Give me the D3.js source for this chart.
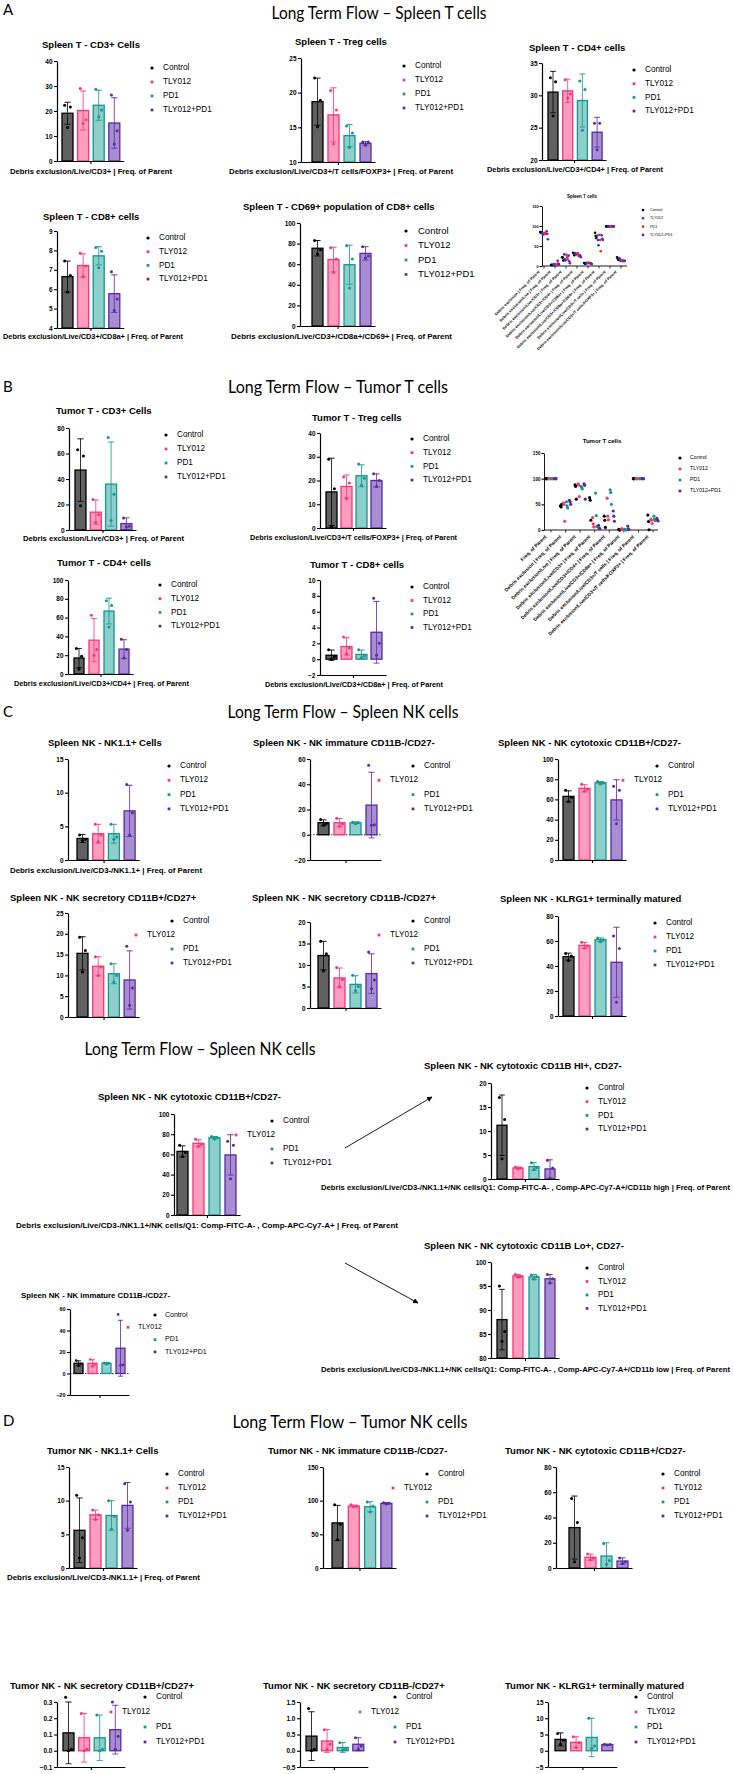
<!DOCTYPE html>
<html>
<head>
<meta charset="utf-8">
<script src="https://cdn.jsdelivr.net/npm/d3@7"></script>
<style>
body { margin: 0; background: #fff; }
text { font-family: "Liberation Sans", Arial, sans-serif; }
</style>
</head>
<body>
<script>
const W = 733, H = 1774;

const groups = ['Control', 'TLY012', 'PD1', 'TLY012+PD1'];
const fills = ['#606060', '#ff9dbf', '#8dcfca', '#a78dd2'];
const strokes = ['#000000', '#f2387a', '#17968f', '#5a2a9d'];
const scatColsSpleen = ['#000000', '#1b36ff', '#ff1f1f', '#6421b0'];

// [mean, sd, [points]] per group, in groups order
const spT_cd3 = [[19.1, 4.4, [22.3, 21.6, 13.4]], [20.2, 7.8, [29, 16.5, 15]], [22.3, 6, [28.7, 20.4, 17.7]], [15.2, 10.1, [26.4, 12.1, 6.8]]];
const spT_treg = [[18.7, 3.4, [22.1, 18.9, 15.1]], [16.8, 3.9, [20.3, 17.5, 12.6]], [13.8, 1.6, [15.2, 14.2, 12.1]], [12.7, 0.25, [12.9, 12.9, 12.4]]];
const spT_cd4 = [[30.5, 3.2, [32.7, 32.1, 26.8]], [30.7, 1.8, [32.4, 30.2, 29.6]], [29.2, 4.1, [32.2, 30.9, 24.6]], [24.3, 2.3, [25.7, 25.7, 21.6]]];
const spT_cd8 = [[6.65, 0.8, [7.45, 6.7, 5.85]], [7.22, 0.6, [7.85, 7.2, 6.65]], [7.72, 0.47, [8.15, 7.95, 7.1]], [5.77, 0.97, [6.9, 5.5, 4.9]]];
const spT_cd69 = [[75.5, 7.5, [83, 74, 70]], [64.5, 12, [76, 65, 52]], [59.5, 19, [78, 65, 37]], [70.5, 6.5, [77, 68, 66]]];

const tuT_cd3 = [[47, 24.5, [63, 58, 19]], [14, 9.5, [24, 12, 6]], [36, 33, [72.5, 28, 7.5]], [5, 4.5, [9.5, 3, 2.5]]];
const tuT_treg = [[15.2, 14.2, [29, 16.5, 0.5]], [17.5, 4.8, [21.5, 19, 12.3]], [22, 4.6, [27, 21, 18]], [20, 2.8, [22.8, 20, 17.5]]];
const tuT_cd4 = [[17, 10.2, [27, 19, 5]], [36, 23, [62.5, 26, 20]], [67, 13.7, [78, 73, 50]], [26.5, 10, [37, 26, 17]]];
const tuT_cd8 = [[0.5, 0.65, [1.2, 0.3, 0]], [1.6, 1.1, [2.8, 1.4, 0.7]], [0.6, 0.55, [1.2, 0.4, 0.2]], [3.4, 3.9, [7.7, 2, 0.5]]];

const spNK_nk11 = [[3.2, 0.6, [3.7, 3.1, 2.9]], [3.9, 1.4, [5.3, 3.7, 2.7]], [3.9, 1.4, [5.3, 3.4, 3.1]], [7.3, 3.8, [11.2, 7.0, 3.7]]];
const spNK_imm = [[9.5, 2.3, [12, 9, 7.5]], [9.5, 3.3, [13, 8.5, 7]], [9.5, 0.7, [10, 9.7, 8.7]], [23.5, 26, [55, 8, 7.5]]];
const spNK_cyto = [[63, 5.5, [69, 62, 58]], [71, 3.5, [75, 70, 68]], [76.5, 1.2, [77.7, 76.5, 75.3]], [59.5, 20, [73, 69, 36]]];
const spNK_sec1 = [[15.3, 4, [19.2, 16, 10.8]], [12.2, 2.3, [14.5, 12, 10]], [10.4, 2.4, [12.8, 10, 8.4]], [8.9, 7, [17, 7, 2.8]]];
const spNK_sec2 = [[12.2, 3.3, [15.5, 12.6, 8.6]], [7, 2.3, [9.4, 6.6, 5]], [5.5, 2, [7.6, 5, 4]], [8, 4.6, [13, 6.5, 4.5]]];
const spNK_klrg = [[47.5, 2.8, [50, 48, 44.5]], [56.5, 2.4, [59, 56, 54.5]], [61, 1.5, [62.5, 61, 59.5]], [43, 28, [64, 54, 11]]];
const spNK_hi = [[11.2, 6.3, [17, 12.4, 4.2]], [2.3, 0.2, [2.5, 2.3, 2.1]], [2.6, 0.8, [3.4, 2.4, 2.0]], [2.1, 1.9, [3.9, 2.3, 0.1]]];
const spNK_lo = [[88, 6.3, [95, 85.5, 83.5]], [97.1, 0.3, [97.4, 97, 96.9]], [96.9, 0.5, [97.3, 97, 96.4]], [96.5, 0.9, [97.4, 96.5, 95.6]]];

const tuNK_nk11 = [[5.6, 4.8, [10.8, 4.5, 1.5]], [7.9, 0.7, [8.6, 7.9, 7.2]], [7.8, 2.2, [10, 7.7, 5.8]], [9.3, 3.4, [12.5, 9.8, 5.6]]];
const tuNK_imm = [[67, 26, [94, 65, 42]], [92, 1.5, [94, 92, 91]], [91, 7.5, [98, 92, 83]], [96, 1, [97, 96, 95]]];
const tuNK_cyto = [[32, 25, [55, 36, 5]], [8.5, 2.5, [11, 8, 6.5]], [9.5, 10.5, [19.5, 6, 3]], [5.5, 2.5, [8, 5, 3.5]]];
const tuNK_sec1 = [[0.11, 0.19, [0.33, 0.01, 0]], [0.08, 0.15, [0.23, 0.01, 0]], [0.08, 0.14, [0.22, 0.01, 0]], [0.13, 0.15, [0.3, 0.09, 0.01]]];
const tuNK_sec2 = [[0.45, 0.75, [1.3, 0.05, 0]], [0.3, 0.35, [0.65, 0.2, 0.05]], [0.1, 0.15, [0.25, 0.05, 0.02]], [0.2, 0.2, [0.4, 0.15, 0.05]]];
const tuNK_klrg = [[3.5, 2, [5.3, 3.2, 2]], [2.6, 1.7, [4.3, 2.5, 1]], [4.1, 5.9, [10, 1.5, 0.8]], [1.9, 0.1, [2.0, 1.9, 1.8]]];

// scatter overviews: per group, one [3 values] per category
const spleenCats = ['Debris exclusion | Freq. of Parent', 'Debris exclusion/Live | Freq. of Parent',
  'Debris exclusion/Live/CD3+ | Freq. of Parent', 'Debris exclusion/Live/CD3+/CD4+ | Freq. of Parent',
  'Debris exclusion/Live/CD3+/CD8a+ | Freq. of Parent', 'Debris exclusion/Live/CD3+/CD8a+/CD69+ | Freq. of Parent',
  'Debris exclusion/Live/CD3+/T cells | Freq. of Parent', 'Debris exclusion/Live/CD3+/T cells/FOXP3+ | Freq. of Parent'];
const spScCtrl = [[85, 84, 83], [3, 2.5, 2], [22, 21, 14], [33, 32, 27], [7.5, 6.7, 5.9], [83, 75, 70], [99, 99, 99], [22, 19, 15]];
const spScTly = [[82, 80, 79], [4, 3, 2.5], [29, 17, 14], [32, 30, 29], [7.8, 7.2, 6.7], [76, 65, 52], [99, 99, 99], [20, 17.5, 12.6]];
const spScPd1 = [[83, 82, 81], [5, 3, 2], [28, 22, 17], [32, 31, 25], [8.2, 8, 7], [78, 65, 37], [99, 99, 99], [15, 14, 12]];
const spScCombo = [[87, 80, 67], [13, 6, 4], [26, 12, 7], [26, 26, 22], [6.9, 5.5, 4.9], [77, 68, 65], [99, 99, 99], [13, 13, 12.4]];

const tumorCats = ['Freq. of Parent', 'Debris exclusion | Freq. of Parent', 'Debris exclusion/Live | Freq. of Parent',
  'Debris exclusion/Live/CD3+ | Freq. of Parent', 'Debris exclusion/Live/CD3+/CD4+ | Freq. of Parent',
  'Debris exclusion/Live/CD3+/CD8a+ | Freq. of Parent', 'Debris exclusion/Live/CD3+/T cells | Freq. of Parent',
  'Debris exclusion/Live/CD3+/T cells/FOXP3+ | Freq. of Parent'];
const tuScCtrl = [[100, 100, 100], [47, 45, 50], [88, 85, 60], [63, 58, 19], [27, 19, 5], [1.2, 0.3, 0], [100, 100, 100], [29, 16.5, 0.5]];
const tuScTly = [[100, 100, 100], [53, 50, 17], [90, 88, 65], [24, 12, 6], [62, 27, 20], [2.8, 1.4, 0.7], [100, 100, 100], [21, 19, 12.5]];
const tuScPd1 = [[100, 100, 100], [55, 47, 43], [85, 83, 80], [72, 28, 7], [78, 73, 50], [1.2, 0.4, 0.2], [100, 100, 100], [27, 21, 18]];
const tuScCombo = [[100, 100, 100], [58, 55, 50], [90, 87, 60], [9, 3, 2.5], [37, 27, 17], [7.7, 2, 0.5], [100, 100, 100], [22.5, 20, 17.5]];

const svg = d3.select('body').append('svg')
  .attr('width', W)
  .attr('height', H)
  .style('background-color', '#fff');

function label(g, x, y, s, size, weight, anchor) {
  return g.append('text')
    .attr('x', x).attr('y', y)
    .attr('dominant-baseline', 'middle')
    .attr('text-anchor', anchor || 'start')
    .style('font-size', size + 'px')
    .style('font-weight', weight || 'normal')
    .text(s);
}

function styleAxis(ga, fs) {
  ga.select('.domain').attr('stroke', '#000').attr('stroke-width', 1.2);
  ga.selectAll('.tick line').attr('stroke', '#000').attr('stroke-width', 1.1);
  ga.selectAll('.tick text').style('font-size', fs + 'px').style('font-weight', 'bold')
    .style('font-family', '"Liberation Sans", Arial, sans-serif').attr('fill', '#000');
}

function drawBars(c) {
  const g = svg.append('g');
  const y = d3.scaleLinear().domain(c.dom).range([c.yBot, c.yTop]);
  const pad = 1 - c.bw / c.step;
  const start = c.bx - (c.step - c.bw) / 2;
  const x = d3.scaleBand().domain(groups)
    .range([start, start + 4 * c.step])
    .paddingInner(pad).paddingOuter(pad / 2);
  const base = y(Math.max(c.dom[0], 0));
  const axEnd = c.axEnd || (x(groups[3]) + x.bandwidth() + 4);
  const bw = x.bandwidth();

  if (c.zero) {
    g.append('line')
      .attr('x1', c.ax).attr('x2', axEnd)
      .attr('y1', y(0)).attr('y2', y(0))
      .attr('stroke', '#000').attr('stroke-width', 0.8)
      .attr('stroke-dasharray', '1.5,1.5');
  }

  g.selectAll('rect.bar').data(c.data).join('rect')
    .attr('class', 'bar')
    .attr('x', (d, i) => x(groups[i]))
    .attr('y', d => y(d[0]))
    .attr('width', bw)
    .attr('height', d => base - y(d[0]))
    .attr('fill', (d, i) => fills[i])
    .attr('stroke', (d, i) => strokes[i])
    .attr('stroke-width', 1.3);

  const cap = bw * 0.28;
  const offs = [-0.26 * bw, 0.26 * bw, 0];
  c.data.forEach((d, i) => {
    const cx = x(groups[i]) + bw / 2;
    const lo = Math.max(d[0] - d[1], c.dom[0]);
    const hi = d[0] + d[1];
    g.append('line').attr('x1', cx).attr('x2', cx).attr('y1', y(lo)).attr('y2', y(hi))
      .attr('stroke', strokes[i]).attr('stroke-width', 0.8);
    g.append('line').attr('x1', cx - cap).attr('x2', cx + cap).attr('y1', y(hi)).attr('y2', y(hi))
      .attr('stroke', strokes[i]).attr('stroke-width', 0.9);
    if (d[0] - d[1] > c.dom[0]) {
      g.append('line').attr('x1', cx - cap).attr('x2', cx + cap).attr('y1', y(lo)).attr('y2', y(lo))
        .attr('stroke', strokes[i]).attr('stroke-width', 0.8);
    }
    g.selectAll(null).data(d[2]).join('circle')
      .attr('cx', (v, j) => cx + offs[j])
      .attr('cy', v => y(v))
      .attr('r', c.pr || 1.5)
      .attr('fill', strokes[i]);
  });

  const ya = d3.axisLeft(y).tickValues(c.ticks).tickSize(3).tickSizeOuter(0).tickPadding(1.5)
    .tickFormat(d3.format(c.fmt || '~g'));
  const gy = g.append('g').attr('transform', 'translate(' + c.ax + ',0)').call(ya);
  styleAxis(gy, c.tfs || 6.5);

  const xs = d3.scalePoint().domain(['']).range([c.ax, axEnd]).padding(0.5);
  const gx = g.append('g').attr('transform', 'translate(0,' + c.yBot + ')')
    .call(d3.axisBottom(xs).tickSize(3).tickSizeOuter(0).tickFormat(''));
  styleAxis(gx, 6);

  label(g, c.tx, c.ty, c.title, c.fs || 9.5, 'bold');

  const lfs = c.lfs || 8.2;
  groups.forEach((name, i) => {
    const dx = (i === 1 && c.shift) ? c.shift : 0;
    const ly = c.legY + i * c.legStep;
    const lx = c.legX + dx;
    if (i === 0) {
      g.append('circle').attr('cx', lx).attr('cy', ly).attr('r', c.lr || 1.6).attr('fill', strokes[i]);
    } else {
      const s = (c.lr || 1.6) * 1.7;
      g.append('rect').attr('x', lx - s / 2).attr('y', ly - s / 2).attr('width', s).attr('height', s).attr('fill', strokes[i]);
    }
    label(g, lx + (c.legGap || 11), ly, name, lfs, 'normal');
  });

  if (c.xlab) {
    label(g, (c.xl[0] + c.xl[1]) / 2, c.xl[2], c.xlab, c.xfs || 7.2, 'bold', 'middle')
      .attr('textLength', c.xl[1] - c.xl[0])
      .attr('lengthAdjust', 'spacingAndGlyphs');
  }
}

function drawScatter(c) {
  const g = svg.append('g');
  const y = d3.scaleLinear().domain([0, 150]).range([c.yBot, c.yTop]);
  const x = d3.scalePoint().domain(c.cats).range([c.x0, c.x1]);

  const gy = g.append('g').attr('transform', 'translate(' + c.ax + ',0)')
    .call(d3.axisLeft(y).tickValues([0, 50, 100, 150]).tickSize(2.5).tickSizeOuter(0).tickPadding(1));
  styleAxis(gy, c.tickfs);
  gy.select('.domain').attr('stroke-width', 0.9);

  const gx = g.append('g').attr('transform', 'translate(0,' + c.yBot + ')');
  gx.append('line').attr('x1', c.ax).attr('x2', c.axEnd).attr('stroke', '#000').attr('stroke-width', 0.9);
  gx.selectAll('line.tk').data(c.cats).join('line')
    .attr('class', 'tk')
    .attr('x1', d => x(d)).attr('x2', d => x(d)).attr('y1', 0).attr('y2', 2.5)
    .attr('stroke', '#000').attr('stroke-width', 0.8);
  gx.selectAll('text.cat').data(c.cats).join('text')
    .attr('class', 'cat')
    .attr('text-anchor', 'end')
    .attr('transform', d => 'translate(' + (x(d) + c.labDx) + ',' + c.labDy + ') rotate(-45)')
    .style('font-size', c.labfs + 'px')
    .style('font-weight', 'bold')
    .text(d => d);

  c.vals.forEach((series, gi) => {
    const gOff = c.gOffs[gi];
    series.forEach((pts, ci) => {
      g.selectAll(null).data(pts).join('circle')
        .attr('cx', (v, j) => x(c.cats[ci]) + gOff + (j - 1) * 0.6)
        .attr('cy', v => y(v))
        .attr('r', c.pr)
        .attr('fill', c.colors[gi]);
    });
  });

  label(g, c.tx, c.ty, c.title, c.fs, 'bold', 'middle');

  groups.forEach((name, i) => {
    const ly = c.legY + i * c.legStep;
    g.append('circle').attr('cx', c.legDot).attr('cy', ly).attr('r', c.pr).attr('fill', c.colors[i]);
    label(g, c.legText, ly, name, c.lfs, 'normal');
  });
}

function section(letter, ly, title, cx, cy, width) {
  const g = svg.append('g');
  if (letter) {
    label(g, 3, ly, letter, 15, 'normal').style('font-family', 'Lato, "Open Sans", sans-serif');
  }
  label(g, cx, cy, title, 18, 'normal', 'middle')
    .style('font-family', 'Lato, "Open Sans", sans-serif')
    .attr('textLength', width)
    .attr('lengthAdjust', 'spacingAndGlyphs');
}

// ---------- A ----------
section('A', 11, 'Long Term Flow \u2013 Spleen T cells', 379, 14, 215);

drawBars({data: spT_cd3, ax: 57, yBot: 161, yTop: 61, dom: [0, 40], ticks: [0, 10, 20, 30, 40],
  bx: 62, step: 15.6, bw: 11, title: 'Spleen T - CD3+ Cells', tx: 42, ty: 45,
  legX: 152, legY: 68, legStep: 14, xlab: 'Debris exclusion/Live/CD3+ | Freq. of Parent', xl: [10, 172, 172]});
drawBars({data: spT_treg, ax: 301, yBot: 162, yTop: 58, dom: [10, 25], ticks: [10, 15, 20, 25],
  bx: 312, step: 16, bw: 11, title: 'Spleen T - Treg cells', tx: 295, ty: 42,
  legX: 404, legY: 66, legStep: 14, xlab: 'Debris exclusion/Live/CD3+/T cells/FOXP3+ | Freq. of Parent', xl: [229, 453, 172]});
drawBars({data: spT_cd4, ax: 542, yBot: 160, yTop: 63, dom: [20, 35], ticks: [20, 25, 30, 35],
  bx: 548, step: 14.7, bw: 10, title: 'Spleen T - CD4+ cells', tx: 529, ty: 48,
  legX: 634, legY: 70, legStep: 13.7, xlab: 'Debris exclusion/Live/CD3+/CD4+ | Freq. of Parent', xl: [487, 663, 170]});
drawBars({data: spT_cd8, ax: 57, yBot: 328, yTop: 231, dom: [4, 9], ticks: [4, 5, 6, 7, 8, 9],
  bx: 62, step: 15.6, bw: 11, title: 'Spleen T - CD8+ cells', tx: 43, ty: 217,
  legX: 148, legY: 238, legStep: 13.7, xlab: 'Debris exclusion/Live/CD3+/CD8a+ | Freq. of Parent', xl: [3, 183, 337]});
drawBars({data: spT_cd69, ax: 300, yBot: 326, yTop: 223, dom: [0, 100], ticks: [0, 20, 40, 60, 80, 100],
  bx: 312, step: 16, bw: 11, title: 'Spleen T - CD69+ population of CD8+ cells', tx: 243, ty: 207,
  legX: 406, legY: 231, legStep: 14.5, lfs: 9.5, legGap: 12,
  xlab: 'Debris exclusion/Live/CD3+/CD8a+/CD69+ | Freq. of Parent', xl: [231, 452, 337]});
drawScatter({cats: spleenCats, vals: [spScCtrl, spScTly, spScPd1, spScCombo], colors: scatColsSpleen,
  ax: 542, axEnd: 627, yBot: 266, yTop: 206, x0: 544, x1: 621, gOffs: [-3.3, -1.1, 1.1, 3.3], pr: 1.3,
  tickfs: 3.8, labfs: 3.9, labDx: -4, labDy: 6, title: 'Spleen T cells', tx: 582, ty: 197, fs: 4.5,
  legDot: 643, legText: 650, legY: 210, legStep: 8.3, lfs: 3.8});

// ---------- B ----------
section('B', 388, 'Long Term Flow \u2013 Tumor T cells', 338, 388, 220);

drawBars({data: tuT_cd3, ax: 69, yBot: 530, yTop: 428, dom: [0, 80], ticks: [0, 20, 40, 60, 80],
  bx: 75, step: 15.3, bw: 11, title: 'Tumor T - CD3+ Cells', tx: 56, ty: 411,
  legX: 166, legY: 435, legStep: 14, xlab: 'Debris exclusion/Live/CD3+ | Freq. of Parent', xl: [23, 184, 539]});
drawBars({data: tuT_treg, ax: 320, yBot: 528, yTop: 433, dom: [0, 40], ticks: [0, 10, 20, 30, 40],
  bx: 326, step: 15, bw: 11, title: 'Tumor T - Treg cells', tx: 312, ty: 418,
  legX: 412, legY: 439, legStep: 13.7, xlab: 'Debris exclusion/Live/CD3+/T cells/FOXP3+ | Freq. of Parent', xl: [250, 457, 538]});
drawScatter({cats: tumorCats, vals: [tuScCtrl, tuScTly, tuScPd1, tuScCombo], colors: strokes,
  ax: 544, axEnd: 658, yBot: 530, yTop: 453, x0: 551, x1: 653, gOffs: [-4.5, -1.5, 1.5, 4.5], pr: 1.6,
  tickfs: 4.6, labfs: 4.9, labDx: -4, labDy: 7, title: 'Tumor T cells', tx: 602, ty: 441, fs: 6,
  legDot: 680, legText: 690, legY: 458, legStep: 11, lfs: 5.2});
drawBars({data: tuT_cd4, ax: 68, yBot: 674, yTop: 580, dom: [0, 100], ticks: [0, 20, 40, 60, 80, 100],
  bx: 74, step: 15, bw: 10, title: 'Tumor T - CD4+ cells', tx: 57, ty: 563,
  legX: 160, legY: 585, legStep: 13.7, xlab: 'Debris exclusion/Live/CD3+/CD4+ | Freq. of Parent', xl: [14, 189, 684]});
drawBars({data: tuT_cd8, ax: 320, yBot: 675, yTop: 580, dom: [-2, 10], ticks: [-2, 0, 2, 4, 6, 8, 10],
  bx: 326, step: 15, bw: 11, title: 'Tumor T - CD8+ cells', tx: 310, ty: 565,
  legX: 412, legY: 587, legStep: 13.5, xlab: 'Debris exclusion/Live/CD3+/CD8a+ | Freq. of Parent', xl: [265, 443, 685]});

// ---------- C ----------
section('C', 713, 'Long Term Flow \u2013 Spleen NK cells', 343, 713, 231);

drawBars({data: spNK_nk11, ax: 68, yBot: 860, yTop: 759, dom: [0, 15], ticks: [0, 5, 10, 15],
  bx: 77, step: 15.7, bw: 11, title: 'Spleen NK - NK1.1+ Cells', tx: 48, ty: 743,
  legX: 169, legY: 766, legStep: 14.3, xlab: 'Debris exclusion/Live/CD3-/NK1.1+ | Freq. of Parent', xl: [10, 202, 871]});
drawBars({data: spNK_imm, ax: 310, yBot: 860, yTop: 759, dom: [-20, 60], ticks: [-20, 0, 20, 40, 60], zero: true,
  bx: 318, step: 16, bw: 11, title: 'Spleen NK - NK immature CD11B-/CD27-', tx: 253, ty: 743,
  legX: 413, legY: 766, legStep: 14.3, shift: -34});
drawBars({data: spNK_cyto, ax: 558, yBot: 860, yTop: 759, dom: [0, 100], ticks: [0, 20, 40, 60, 80, 100],
  bx: 563, step: 16, bw: 11, title: 'Spleen NK - NK cytotoxic CD11B+/CD27-', tx: 498, ty: 743,
  legX: 657, legY: 766, legStep: 14.3, shift: -34});
drawBars({data: spNK_sec1, ax: 68, yBot: 1017, yTop: 913, dom: [0, 25], ticks: [0, 5, 10, 15, 20, 25],
  bx: 77, step: 15.7, bw: 11, title: 'Spleen NK - NK secretory CD11B+/CD27+', tx: 10, ty: 898,
  legX: 172, legY: 921, legStep: 14, shift: -36});
drawBars({data: spNK_sec2, ax: 310, yBot: 1008, yTop: 922, dom: [0, 20], ticks: [0, 5, 10, 15, 20],
  bx: 318, step: 16, bw: 11, title: 'Spleen NK - NK secretory CD11B-/CD27+', tx: 252, ty: 898,
  legX: 413, legY: 921, legStep: 14, shift: -34});
drawBars({data: spNK_klrg, ax: 558, yBot: 1016, yTop: 916, dom: [0, 80], ticks: [0, 20, 40, 60, 80],
  bx: 563, step: 16, bw: 11, title: 'Spleen NK - KLRG1+ terminally matured', tx: 500, ty: 899,
  legX: 655, legY: 923, legStep: 14});

section(null, 0, 'Long Term Flow \u2013 Spleen NK cells', 200, 1050, 231);

drawBars({data: spNK_cyto, ax: 174, yBot: 1215, yTop: 1114, dom: [0, 100], ticks: [0, 20, 40, 60, 80, 100],
  bx: 177, step: 16, bw: 11, title: 'Spleen NK - NK cytotoxic CD11B+/CD27-', tx: 98, ty: 1097,
  legX: 272, legY: 1121, legStep: 14, shift: -36,
  xlab: 'Debris exclusion/Live/CD3-/NK1.1+/NK cells/Q1: Comp-FITC-A- , Comp-APC-Cy7-A+ | Freq. of Parent', xl: [16, 398, 1226]});
drawBars({data: spNK_hi, ax: 491, yBot: 1179, yTop: 1083, dom: [0, 20], ticks: [0, 5, 10, 15, 20],
  bx: 497, step: 16, bw: 10, title: 'Spleen NK - NK cytotoxic CD11B HI+, CD27-', tx: 424, ty: 1066,
  legX: 587, legY: 1088, legStep: 13.7,
  xlab: 'Debris exclusion/Live/CD3-/NK1.1+/NK cells/Q1: Comp-FITC-A- , Comp-APC-Cy7-A+/CD11b high | Freq. of Parent', xl: [321, 730, 1188]});
drawBars({data: spNK_lo, ax: 491, yBot: 1358, yTop: 1262, dom: [80, 100], ticks: [80, 85, 90, 95, 100],
  bx: 497, step: 16, bw: 10, title: 'Spleen NK - NK cytotoxic CD11B Lo+, CD27-', tx: 424, ty: 1246,
  legX: 587, legY: 1268, legStep: 13.5,
  xlab: 'Debris exclusion/Live/CD3-/NK1.1+/NK cells/Q1: Comp-FITC-A- , Comp-APC-Cy7-A+/CD11b low | Freq. of Parent', xl: [321, 730, 1370]});
drawBars({data: spNK_imm, ax: 70, yBot: 1395, yTop: 1309, dom: [-20, 60], ticks: [-20, 0, 20, 40, 60], zero: true,
  bx: 74, step: 14, bw: 9, title: 'Spleen NK - NK immature CD11B-/CD27-', tx: 21, ty: 1296, fs: 7.8,
  legX: 155, legY: 1315, legStep: 12.3, shift: -27, lfs: 7, tfs: 5.5, pr: 1.3, legGap: 10});

// arrows
const defs = svg.append('defs');
defs.append('marker').attr('id', 'ah').attr('viewBox', '0 0 10 10').attr('refX', 9).attr('refY', 5)
  .attr('markerWidth', 6).attr('markerHeight', 6).attr('orient', 'auto')
  .append('path').attr('d', 'M0,0 L10,5 L0,10 z').attr('fill', '#000');
svg.append('line').attr('x1', 345).attr('y1', 1148).attr('x2', 432).attr('y2', 1097)
  .attr('stroke', '#000').attr('stroke-width', 0.9).attr('marker-end', 'url(#ah)');
svg.append('line').attr('x1', 345).attr('y1', 1263).attr('x2', 418).attr('y2', 1303)
  .attr('stroke', '#000').attr('stroke-width', 0.9).attr('marker-end', 'url(#ah)');

// ---------- D ----------
section('D', 1422, 'Long Term Flow \u2013 Tumor NK cells', 350, 1423, 235);

drawBars({data: tuNK_nk11, ax: 69, yBot: 1568, yTop: 1467, dom: [0, 15], ticks: [0, 5, 10, 15],
  bx: 74, step: 16, bw: 11, title: 'Tumor NK - NK1.1+ Cells', tx: 47, ty: 1451,
  legX: 167, legY: 1474, legStep: 14, xlab: 'Debris exclusion/Live/CD3-/NK1.1+ | Freq. of Parent', xl: [7, 200, 1578]});
drawBars({data: tuNK_imm, ax: 323, yBot: 1568, yTop: 1467, dom: [0, 150], ticks: [0, 50, 100, 150],
  bx: 332, step: 16.3, bw: 11, title: 'Tumor NK - NK immature CD11B-/CD27-', tx: 268, ty: 1451,
  legX: 427, legY: 1474, legStep: 14, shift: -34});
drawBars({data: tuNK_cyto, ax: 556, yBot: 1568, yTop: 1467, dom: [0, 80], ticks: [0, 20, 40, 60, 80],
  bx: 569, step: 16, bw: 11, title: 'Tumor NK - NK cytotoxic CD11B+/CD27-', tx: 505, ty: 1451,
  legX: 663, legY: 1474, legStep: 14});
drawBars({data: tuNK_sec1, ax: 57, yBot: 1767, yTop: 1702, dom: [-0.1, 0.3], ticks: [-0.1, 0, 0.1, 0.2, 0.3], fmt: '.1f',
  bx: 63, step: 15.6, bw: 11, title: 'Tumor NK - NK secretory CD11B+/CD27+', tx: 10, ty: 1686,
  legX: 145, legY: 1697, legStep: 15, shift: -34});
drawBars({data: tuNK_sec2, ax: 300, yBot: 1767, yTop: 1702, dom: [-0.5, 1.5], ticks: [-0.5, 0, 0.5, 1, 1.5], fmt: '.1f',
  bx: 306, step: 15.6, bw: 11, title: 'Tumor NK - NK secretory CD11B-/CD27+', tx: 263, ty: 1686,
  legX: 395, legY: 1697, legStep: 15, shift: -35});
drawBars({data: tuNK_klrg, ax: 548, yBot: 1767, yTop: 1702, dom: [-5, 15], ticks: [-5, 0, 5, 10, 15],
  bx: 555, step: 15.6, bw: 11, title: 'Tumor NK - KLRG1+ terminally matured', tx: 505, ty: 1686,
  legX: 636, legY: 1697, legStep: 15});
</script>
</body>
</html>
